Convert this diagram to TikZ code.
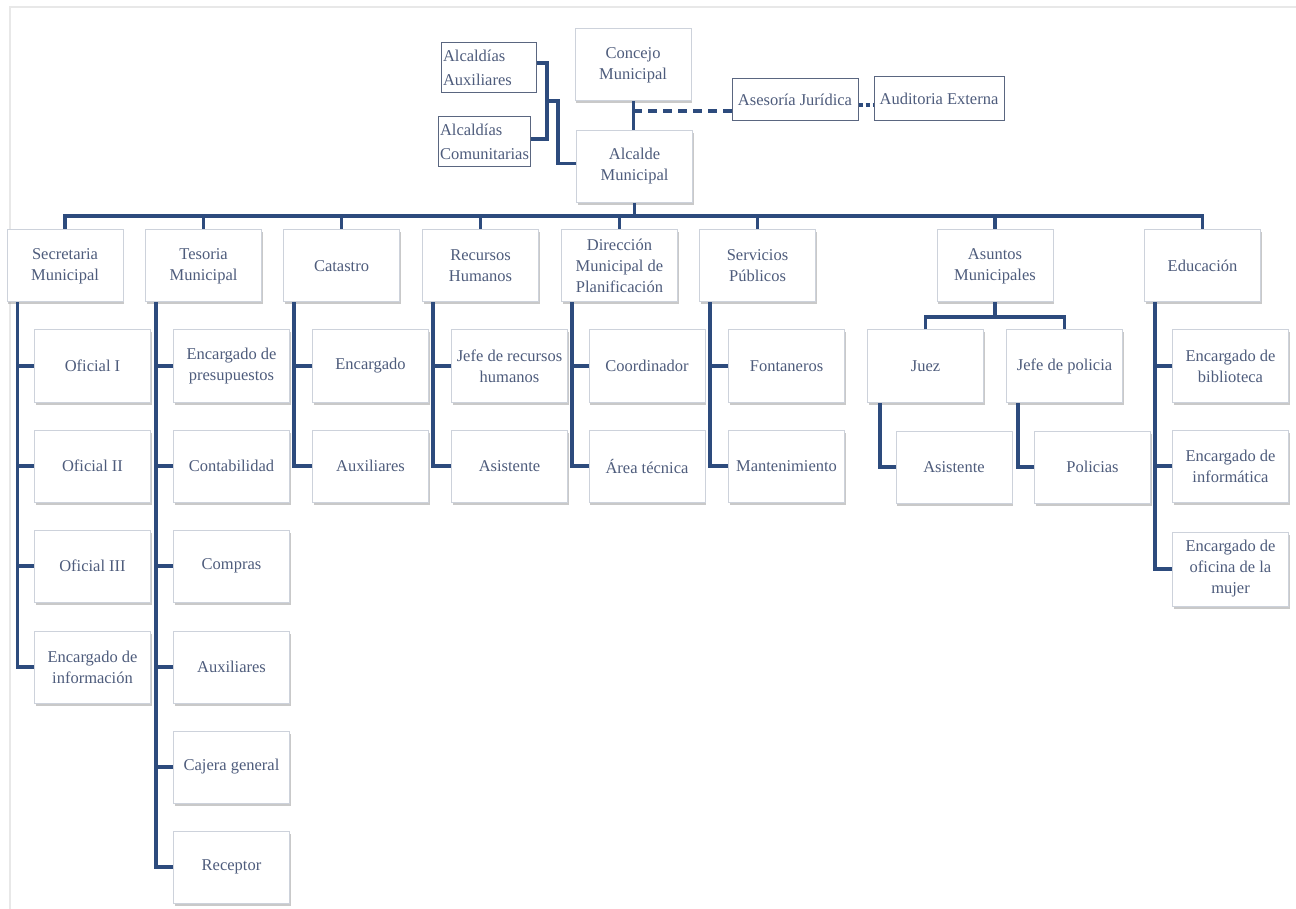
\documentclass[tikz,border=0pt]{standalone}
\usepackage{fontspec}
\setmainfont{Liberation Serif}
\newfontfamily\tnr{Liberation Serif}
\usetikzlibrary{shadows}
\definecolor{lineblue}{HTML}{2D4B7D}
\definecolor{txt}{HTML}{4E5C7C}
\definecolor{boxedge}{HTML}{CDD2DB}
\definecolor{darkedge}{HTML}{5A6680}
\definecolor{framec}{HTML}{E8E8E8}
\tikzset{
  orgbox/.style={draw=boxedge, line width=1pt, fill=white, minimum width=116pt,
    minimum height=72pt, inner sep=2pt, align=center, text=txt,
    font=\tnr\fontsize{16.5}{21}\selectfont,
    drop shadow={shadow xshift=1pt, shadow yshift=-2.5pt, fill=gray!70, opacity=0.6}},
  sidebox/.style={draw=darkedge, line width=1pt, fill=white, inner sep=2pt,
    align=left, text=txt, font=\tnr\fontsize{16.5}{24}\selectfont},
  legalbox/.style={draw=darkedge, line width=1pt, fill=white, inner sep=2pt,
    align=center, text=txt, font=\tnr\fontsize{16.5}{21}\selectfont},
  conn/.style={draw=lineblue, line width=3.5pt},
  dashconn/.style={draw=lineblue, line width=3.5pt, dash pattern=on 9pt off 6pt},
  dotconn/.style={draw=lineblue, line width=3.5pt, dash pattern=on 4pt off 3pt},
}
\begin{document}
\begin{tikzpicture}[x=1pt,y=-1pt]
\useasboundingbox (0,0) rectangle (1296,909);
\fill[white] (0,0) rectangle (1296,909);
\draw[framec, line width=1.5pt] (10,909) -- (10,7) -- (1296,7);

% top level
\node[orgbox] (con) at (633,65) {Concejo\\Municipal};
\node[orgbox] (alc) at (634.5,166.5) {Alcalde\\Municipal};
\node[sidebox, text width=91pt, minimum height=50pt] (aux) at (488.5,68) {Alcaldías\\Auxiliares};
\node[sidebox, text width=88pt, minimum height=50pt] (com) at (484,142) {Alcaldías\\Comunitarias};
\node[legalbox, minimum width=126pt, minimum height=42pt] (ases) at (795,100) {Asesoría Jurídica};
\node[legalbox, minimum width=130pt, minimum height=44pt] (aud) at (939,99) {Auditoria Externa};

% first row
\node[orgbox] (sec) at (65,266) {Secretaria\\Municipal};
\node[orgbox] (tes) at (203.5,266) {Tesoria\\Municipal};
\node[orgbox] (cat) at (341.5,266) {Catastro};
\node[orgbox] (rh) at (480.5,266) {Recursos\\Humanos};
\node[orgbox] (dmp) at (619.5,266) {Dirección\\Municipal de\\Planificación};
\node[orgbox] (sp) at (757.5,266) {Servicios\\Públicos};
\node[orgbox] (am) at (995,266) {Asuntos\\Municipales};
\node[orgbox] (edu) at (1202.5,266) {Educación};

% children
\node[orgbox] (s1) at (92.5,366) {Oficial I};
\node[orgbox] (s2) at (92.5,466) {Oficial II};
\node[orgbox] (s3) at (92.5,566) {Oficial III};
\node[orgbox] (s4) at (92.5,667) {Encargado de\\información};

\node[orgbox] (t1) at (231.5,366) {Encargado de\\presupuestos};
\node[orgbox] (t2) at (231.5,466) {Contabilidad};
\node[orgbox] (t3) at (231.5,566) {Compras};
\node[orgbox] (t4) at (231.5,667) {Auxiliares};
\node[orgbox] (t5) at (231.5,767) {Cajera general};
\node[orgbox] (t6) at (231.5,867) {Receptor};

\node[orgbox] (c1) at (370.5,366) {Encargado};
\node[orgbox] (c2) at (370.5,466) {Auxiliares};

\node[orgbox] (r1) at (509.5,366) {Jefe de recursos\\humanos};
\node[orgbox] (r2) at (509.5,466) {Asistente};

\node[orgbox] (d1) at (647,366) {Coordinador};
\node[orgbox] (d2) at (647,466) {Área técnica};

\node[orgbox] (p1) at (786.5,366) {Fontaneros};
\node[orgbox] (p2) at (786.5,466) {Mantenimiento};

\node[orgbox] (juez) at (925.5,366) {Juez};
\node[orgbox] (jefe) at (1064.5,366) {Jefe de policia};
\node[orgbox] (asis) at (954,467) {Asistente};
\node[orgbox] (pol) at (1092.5,467) {Policias};

\node[orgbox] (e1) at (1230.5,366) {Encargado de\\biblioteca};
\node[orgbox] (e2) at (1230.5,466) {Encargado de\\informática};
\node[orgbox, minimum height=74pt] (e3) at (1230.5,569) {Encargado de\\oficina de la\\mujer};

% coordinates
\coordinate (bus) at (0,216);
\coordinate (jogA) at (547,101);
\coordinate (jogB) at (558,101);
\coordinate (dj) at (633,111);
\coordinate (ambus) at (0,317);

% top connectors
\draw[conn, line width=3pt] (con.south) -- (con.south |- alc.north);
\draw[dashconn] (dj) -- (dj -| ases.west);
\draw[dotconn] ([yshift=-5pt]ases.east) -- ([yshift=-5pt]ases.east -| aud.west);
\draw[conn] ([yshift=5pt]aux.east) -| (jogA) -- (jogB) |- ([yshift=3pt]alc.west);
\draw[conn] ([yshift=3pt]com.east) -| (jogA);

% main bus
\draw[conn] (alc.south) -- (alc.south |- bus);
\draw[conn, line cap=rect] (sec.north |- bus) -- (edu.north |- bus);
\foreach \n in {sec,tes,cat,rh,dmp,sp,am,edu}
  \draw[conn] (\n.north |- bus) -- (\n.north);

% children connectors
\foreach \p/\c in {sec/s1,sec/s2,sec/s3,sec/s4,tes/t1,tes/t2,tes/t3,tes/t4,tes/t5,tes/t6,
                   cat/c1,cat/c2,rh/r1,rh/r2,dmp/d1,dmp/d2,sp/p1,sp/p2,edu/e1,edu/e2,edu/e3}
  \draw[conn] (\c.west) -| ([xshift=11pt]\p.south west);

% asuntos municipales
\draw[conn] (am.south) -- (am.south |- ambus);
\draw[conn] (juez.north) |- (am.south |- ambus) -| (jefe.north);
\draw[conn] (asis.west) -| ([xshift=13pt]juez.south west);
\draw[conn] (pol.west) -| ([xshift=12pt]jefe.south west);
\end{tikzpicture}
\end{document}
